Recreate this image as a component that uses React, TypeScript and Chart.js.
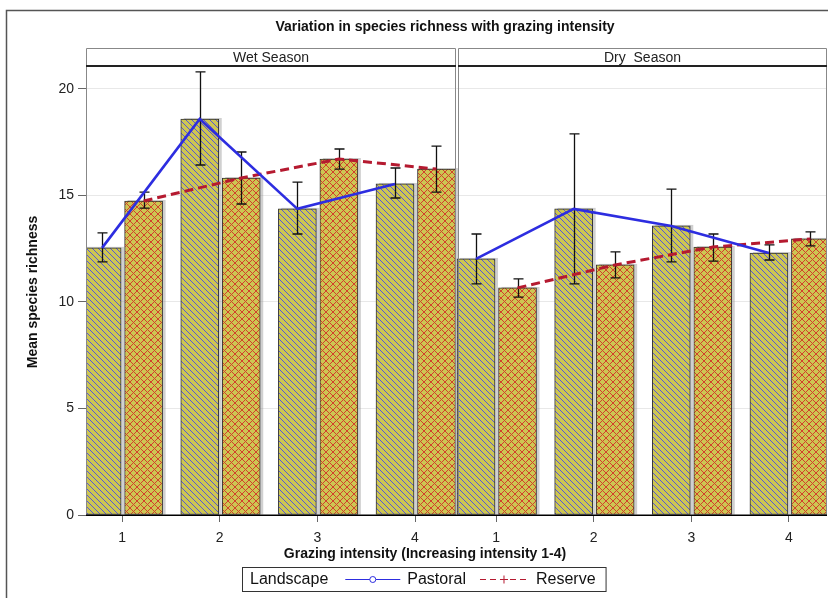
import React, { useEffect, useRef } from 'react';
import { Chart, registerables } from 'chart.js';
Chart.register(...registerables);

// ---- data ----
const intensities = ['1', '2', '3', '4'];
const seasons = ['Wet Season', 'Dry  Season'];
const yTicks = [0, 5, 10, 15, 20];

const pastoralWet = [12.54, 18.59, 14.37, 15.54];
const pastoralWetLo = [11.88, 16.43, 13.19, 14.88];
const pastoralWetHi = [13.24, 20.8, 15.63, 16.29];
const reserveWet = [14.74, 15.82, 16.71, 16.24];
const reserveWetLo = [14.41, 14.6, 16.24, 15.16];
const reserveWetHi = [15.16, 17.04, 17.18, 17.32];

const pastoralDry = [12.02, 14.37, 13.57, 12.3];
const pastoralDryLo = [10.85, 10.85, 11.88, 11.97];
const pastoralDryHi = [13.19, 17.89, 15.3, 12.68];
const reserveDry = [10.66, 11.74, 12.58, 12.96];
const reserveDryLo = [10.23, 11.13, 11.92, 12.63];
const reserveDryHi = [11.08, 12.35, 13.19, 13.29];

// ---- layout constants (scale units) ----
const FONT = "'Liberation Sans', Arial, Helvetica, sans-serif";
const X_MIN = 0.63;
const X_MAX = 8.22;
const PANEL_BREAK = 4.417;
const DRY_SHIFT = 3.83;
const PAST_OFF = -0.205;
const RES_OFF = 0.22;
const Y_MAX = 21.03;

const OLIVE = '#cdc652';
const BLUE_HATCH = '#5656d8';
const RED_HATCH = '#d2402c';
const BLUE = '#2d2de0';
const RED = '#b51a30';

const xsWet = intensities.map((_, i) => i + 1);
const xsDry = intensities.map((_, i) => i + 1 + DRY_SHIFT);

function pts(xs: number[], ys: number[], off: number) {
  return ys.map((y, i) => ({ x: xs[i] + off, y }));
}

function makePattern(ctx: CanvasRenderingContext2D, kind: 'diag' | 'cross') {
  const n = kind === 'diag' ? 6 : 7;
  const c = document.createElement('canvas');
  c.width = n;
  c.height = n;
  const g = c.getContext('2d')!;
  g.fillStyle = OLIVE;
  g.fillRect(0, 0, n, n);
  g.fillStyle = kind === 'diag' ? BLUE_HATCH : RED_HATCH;
  for (let i = 0; i < n; i++) {
    g.fillRect(i, i, 1, 1);
    if (kind === 'cross') g.fillRect(i, (n - i) % n, 1, 1);
  }
  return ctx.createPattern(c, 'repeat')!;
}

const decorPlugin = {
  id: 'decor',
  beforeDraw(chart: any) {
    const ctx = chart.ctx;
    ctx.save();
    ctx.fillStyle = '#fff';
    ctx.fillRect(0, 0, chart.width, chart.height);
    ctx.strokeStyle = '#555';
    ctx.lineWidth = 1.5;
    ctx.strokeRect(6.5, 10.5, chart.width + 20, chart.height + 20);
    ctx.restore();
  },
  beforeDatasetDraw(chart: any, args: any) {
    const ds = chart.data.datasets[args.index];
    if (ds.type !== 'bar') return;
    const ctx = chart.ctx;
    const ca = chart.chartArea;
    ctx.save();
    ctx.beginPath();
    ctx.rect(ca.left, ca.top, ca.right - ca.left, ca.bottom - ca.top);
    ctx.clip();
    ctx.fillStyle = 'rgba(150,150,150,0.45)';
    args.meta.data.forEach((el: any) => {
      const w = el.width;
      ctx.fillRect(el.x - w / 2 + 3, el.y - 1, w, el.base - el.y + 1);
    });
    ctx.restore();
  },
  afterDatasetDraw(chart: any, args: any) {
    const ds = chart.data.datasets[args.index];
    if (!ds.errLo) return;
    const ctx = chart.ctx;
    const ys = chart.scales.y;
    const ca = chart.chartArea;
    ctx.save();
    ctx.beginPath();
    ctx.rect(ca.left, ca.top, ca.right - ca.left, ca.bottom - ca.top);
    ctx.clip();
    ctx.strokeStyle = '#111';
    ctx.lineWidth = 1.3;
    args.meta.data.forEach((el: any, i: number) => {
      const x = Math.round(el.x) + 0.5;
      const y1 = ys.getPixelForValue(ds.errLo[i]);
      const y2 = ys.getPixelForValue(ds.errHi[i]);
      ctx.beginPath();
      ctx.moveTo(x, y1);
      ctx.lineTo(x, y2);
      ctx.moveTo(x - 5, y1);
      ctx.lineTo(x + 5, y1);
      ctx.moveTo(x - 5, y2);
      ctx.lineTo(x + 5, y2);
      ctx.stroke();
    });
    ctx.restore();
  },
  afterDraw(chart: any) {
    const ctx = chart.ctx;
    const xs = chart.scales.x;
    const ca = chart.chartArea;
    const brk = Math.round(xs.getPixelForValue(PANEL_BREAK));
    const panels = [
      [ca.left, brk],
      [brk + 2, ca.right],
    ];
    const hTop = ca.top - 19;
    ctx.save();
    // panel borders & headers
    panels.forEach(([l, r], k) => {
      ctx.strokeStyle = '#888';
      ctx.lineWidth = 1;
      ctx.beginPath();
      ctx.moveTo(l + 0.5, ca.bottom);
      ctx.lineTo(l + 0.5, hTop + 0.5);
      ctx.lineTo(r - 0.5, hTop + 0.5);
      ctx.lineTo(r - 0.5, ca.bottom);
      ctx.stroke();
      ctx.strokeStyle = '#222';
      ctx.lineWidth = 2;
      ctx.beginPath();
      ctx.moveTo(l, ca.top - 1);
      ctx.lineTo(r, ca.top - 1);
      ctx.stroke();
      ctx.fillStyle = '#222';
      ctx.font = `14px ${FONT}`;
      ctx.textAlign = 'center';
      ctx.textBaseline = 'middle';
      ctx.fillText(seasons[k], (l + r) / 2, hTop + 10);
    });
    // bottom axis line
    ctx.strokeStyle = '#000';
    ctx.lineWidth = 1.5;
    ctx.beginPath();
    ctx.moveTo(ca.left, ca.bottom + 0.25);
    ctx.lineTo(ca.right, ca.bottom + 0.25);
    ctx.stroke();

    // titles
    ctx.fillStyle = '#111';
    ctx.font = `bold 14px ${FONT}`;
    ctx.textAlign = 'center';
    ctx.textBaseline = 'middle';
    ctx.fillText('Variation in species richness with grazing intensity', 445, 27);
    ctx.fillText('Grazing intensity (Increasing intensity 1-4)', 425, 554);
    ctx.save();
    ctx.translate(33, 292);
    ctx.rotate(-Math.PI / 2);
    ctx.fillText('Mean species richness', 0, 0);
    ctx.restore();

    // legend
    const lx = 242, ly = 567, lh = 24;
    ctx.font = `16px ${FONT}`;
    ctx.textAlign = 'left';
    ctx.fillStyle = '#111';
    let x = lx + 8;
    const cy = ly + lh / 2 + 0.5;
    ctx.fillText('Landscape', x, cy);
    x += ctx.measureText('Landscape').width + 17;
    // pastoral sample
    ctx.strokeStyle = BLUE;
    ctx.lineWidth = 1;
    ctx.beginPath();
    ctx.moveTo(x, cy);
    ctx.lineTo(x + 55, cy);
    ctx.stroke();
    ctx.fillStyle = '#fff';
    ctx.beginPath();
    ctx.arc(x + 27.5, cy, 3, 0, Math.PI * 2);
    ctx.fill();
    ctx.stroke();
    x += 62;
    ctx.fillStyle = '#111';
    ctx.fillText('Pastoral', x, cy);
    x += ctx.measureText('Pastoral').width + 14;
    // reserve sample
    ctx.strokeStyle = RED;
    ctx.setLineDash([6, 4]);
    ctx.beginPath();
    ctx.moveTo(x, cy);
    ctx.lineTo(x + 48, cy);
    ctx.stroke();
    ctx.setLineDash([]);
    ctx.beginPath();
    ctx.moveTo(x + 24, cy - 4);
    ctx.lineTo(x + 24, cy + 4);
    ctx.moveTo(x + 20, cy);
    ctx.lineTo(x + 28, cy);
    ctx.stroke();
    x += 56;
    ctx.fillStyle = '#111';
    ctx.fillText('Reserve', x, cy);
    x += ctx.measureText('Reserve').width + 10;
    ctx.strokeStyle = '#333';
    ctx.lineWidth = 1;
    ctx.strokeRect(lx + 0.5, ly + 0.5, x - lx, lh);
    ctx.restore();
  },
};

export default function App() {
  const ref = useRef<HTMLCanvasElement>(null);
  useEffect(() => {
    const canvas = ref.current!;
    const ctx = canvas.getContext('2d')!;
    const diag = makePattern(ctx, 'diag');
    const cross = makePattern(ctx, 'cross');
    Chart.defaults.font.family = FONT;

    const chart = new Chart(ctx, {
      type: 'bar',
      data: {
        datasets: [
          {
            type: 'bar',
            label: 'Pastoral',
            data: [...pts(xsWet, pastoralWet, PAST_OFF), ...pts(xsDry, pastoralDry, PAST_OFF)],
            errLo: [...pastoralWetLo, ...pastoralDryLo],
            errHi: [...pastoralWetHi, ...pastoralDryHi],
            backgroundColor: diag,
            borderColor: '#333',
            borderWidth: 1,
            borderSkipped: false,
            barThickness: 38,
            grouped: false,
            order: 2,
          } as any,
          {
            type: 'bar',
            label: 'Reserve',
            data: [...pts(xsWet, reserveWet, RES_OFF), ...pts(xsDry, reserveDry, RES_OFF)],
            errLo: [...reserveWetLo, ...reserveDryLo],
            errHi: [...reserveWetHi, ...reserveDryHi],
            backgroundColor: cross,
            borderColor: '#333',
            borderWidth: 1,
            borderSkipped: false,
            barThickness: 38,
            grouped: false,
            order: 2,
          } as any,
          {
            type: 'line',
            label: 'Pastoral wet',
            data: pts(xsWet, pastoralWet, PAST_OFF),
            borderColor: BLUE,
            borderWidth: 2.6,
            pointRadius: 0,
            order: 1,
          },
          {
            type: 'line',
            label: 'Pastoral dry',
            data: pts(xsDry, pastoralDry, PAST_OFF),
            borderColor: BLUE,
            borderWidth: 2.6,
            pointRadius: 0,
            order: 1,
          },
          {
            type: 'line',
            label: 'Reserve wet',
            data: pts(xsWet, reserveWet, RES_OFF),
            borderColor: RED,
            borderWidth: 3,
            borderDash: [9, 5],
            pointRadius: 0,
            order: 1,
          },
          {
            type: 'line',
            label: 'Reserve dry',
            data: pts(xsDry, reserveDry, RES_OFF),
            borderColor: RED,
            borderWidth: 3,
            borderDash: [9, 5],
            pointRadius: 0,
            order: 1,
          },
        ],
      },
      options: {
        animation: false,
        responsive: false,
        layout: { padding: { top: 67, right: 1, left: 0, bottom: 0 } },
        plugins: {
          legend: { display: false },
          tooltip: { enabled: false },
          title: { display: false },
        },
        scales: {
          x: {
            type: 'linear',
            offset: false,
            min: X_MIN,
            max: X_MAX,
            afterBuildTicks: (s: any) => {
              s.ticks = [...xsWet, ...xsDry].map((v) => ({ value: v }));
            },
            afterFit: (s: any) => {
              s.height = 83;
            },
            ticks: {
              autoSkip: false,
              maxRotation: 0,
              padding: 8,
              color: '#222',
              font: { size: 14, family: FONT },
              callback: (_v: any, i: number) => intensities[i % intensities.length],
            },
            grid: { offset: false, drawOnChartArea: false, tickColor: '#666', tickLength: 7 },
            border: { display: false },
          },
          y: {
            type: 'linear',
            min: 0,
            max: Y_MAX,
            afterBuildTicks: (s: any) => {
              s.ticks = yTicks.map((v) => ({ value: v }));
            },
            afterFit: (s: any) => {
              s.width = 86;
            },
            ticks: {
              padding: 4,
              color: '#222',
              font: { size: 14, family: FONT },
            },
            grid: { color: '#e8e8e8', tickColor: '#666', tickLength: 8 },
            border: { display: false },
          },
        },
      },
      plugins: [decorPlugin],
    } as any);
    return () => chart.destroy();
  }, []);

  return (
    <div style={{ position: 'absolute', left: 0, top: 0, width: 828, height: 598 }}>
      <canvas ref={ref} width={828} height={598} style={{ display: 'block' }} />
    </div>
  );
}
